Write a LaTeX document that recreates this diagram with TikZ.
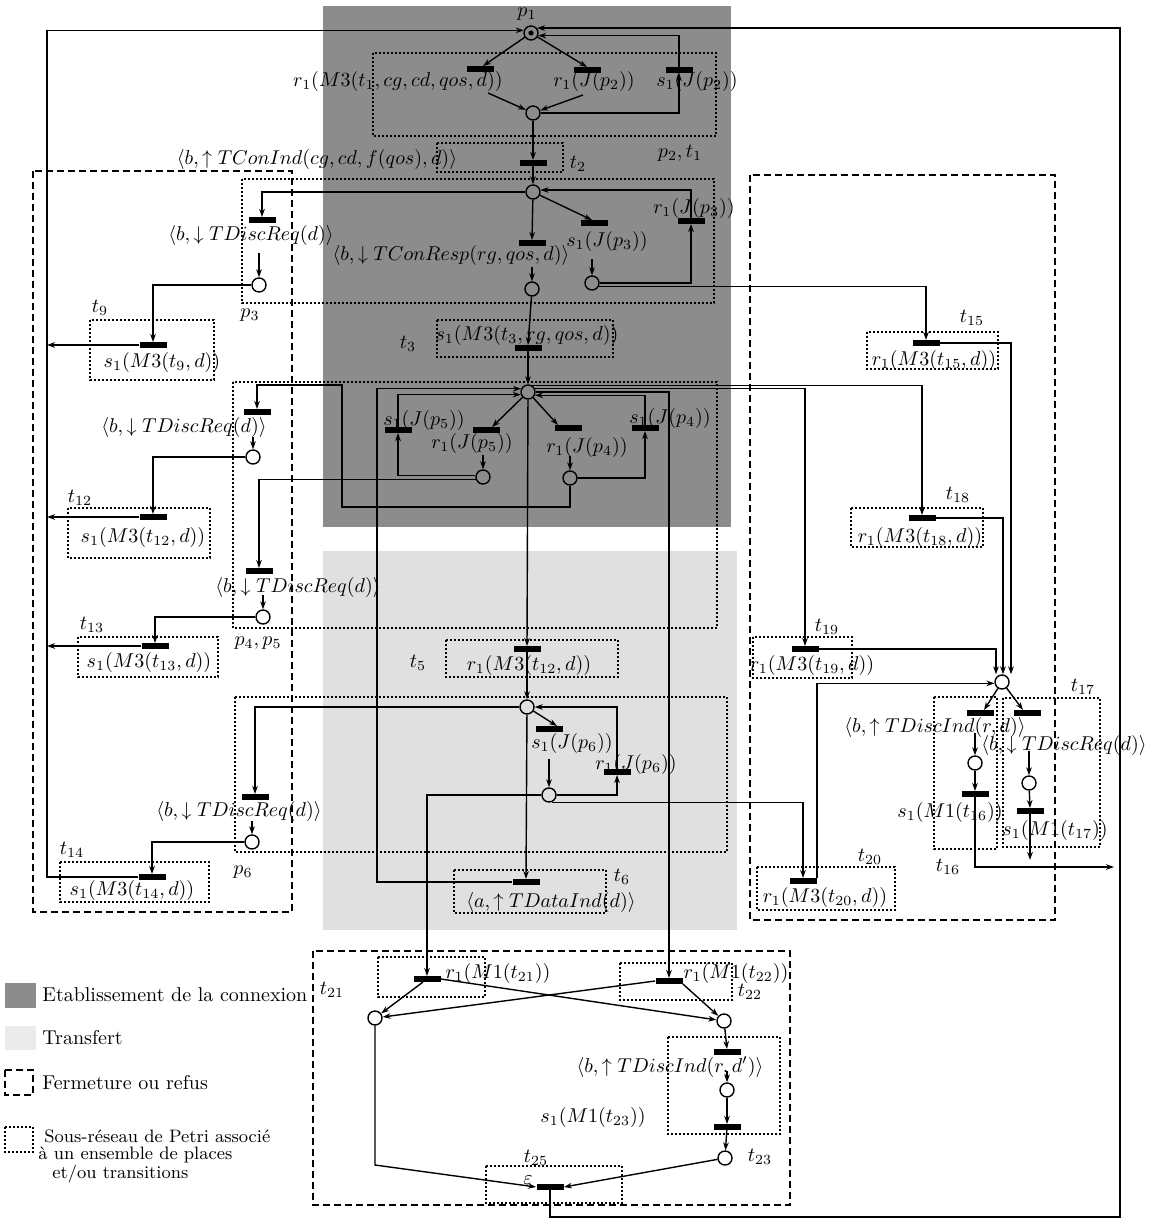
\documentclass[tikz,border=0pt]{standalone}
\usetikzlibrary{arrows.meta,calc}
\begin{document}
\begin{tikzpicture}[x=0.5pt,y=-0.5pt,
  every node/.style={font=\fontsize{10}{12}\selectfont},
  place/.style={circle,draw,line width=0.7pt,minimum size=7pt,inner sep=0pt},
  tbar/.style={rectangle,fill=black,minimum width=13.5pt,minimum height=2.6pt,inner sep=0pt},
  lbl/.style={inner sep=0pt},
  legsmall/.style={inner sep=0pt,anchor=west,font=\fontsize{9}{10}\selectfont},
  arc/.style={line width=0.7pt,-{Stealth[length=4pt,width=2.8pt]}},
  plain/.style={line width=0.7pt},
  subnet/.style={line width=0.6pt,dash pattern=on 0.8pt off 1.2pt},
  closebox/.style={line width=0.7pt,dash pattern=on 3.5pt off 2pt},
]
\useasboundingbox (0,0) rectangle (1148,1219);
% backgrounds
\fill[black!45] (323,6) rectangle (731,527);
\fill[black!12] (323,551) rectangle (737,930);

% dashed boxes (Fermeture ou refus)
\draw[closebox] (33,171) rectangle (292,912);
\draw[closebox] (750,175) rectangle (1055,920);
\draw[closebox] (313,951) rectangle (790,1205);

% dotted boxes (sous-reseaux)
\draw[subnet] (373,53) rectangle (716,136);
\draw[subnet] (437,143) rectangle (563,172);
\draw[subnet] (242,179) rectangle (714,303);
\draw[subnet] (90,320) rectangle (214,380);
\draw[subnet] (437,320) rectangle (613,357);
\draw[subnet] (233,382) rectangle (717,628);
\draw[subnet] (68,508) rectangle (210,558);
\draw[subnet] (78,637) rectangle (218,677);
\draw[subnet] (446,640) rectangle (618,677);
\draw[subnet] (235,697) rectangle (727,852);
\draw[subnet] (60,862) rectangle (209,902);
\draw[subnet] (454,870) rectangle (606,913);
\draw[subnet] (867,332) rectangle (998,369);
\draw[subnet] (851,508) rectangle (983,547);
\draw[subnet] (753,637) rectangle (852,678);
\draw[subnet] (757,867) rectangle (895,910);
\draw[subnet] (934,697) rectangle (997,849);
\draw[subnet] (1003,698) rectangle (1100,847);
\draw[subnet] (378,957) rectangle (485,997);
\draw[subnet] (620,963) rectangle (732,1000);
\draw[subnet] (668,1037) rectangle (780,1134);
\draw[subnet] (486,1166) rectangle (622,1203);

% places
\node[place] (P1) at (531,33) {};
\node[place] (P2) at (533,113) {};
\node[place] (P3) at (533,192) {};
\node[place] (P3a) at (592,283) {};
\node[place] (P3b) at (532,289) {};
\node[place] (P3c) at (259,285) {};
\node[place] (H45) at (528,392) {};
\node[place] (P5) at (483,477) {};
\node[place] (P4) at (570,478) {};
\node[place] (P45a) at (253,457) {};
\node[place] (P45b) at (263,617) {};
\node[place] (H6) at (527,707) {};
\node[place] (P6b) at (549,795) {};
\node[place] (P6c) at (252,842) {};
\node[place] (HR) at (1002,682) {};
\node[place] (PR16) at (975,763) {};
\node[place] (PR17) at (1029,783) {};
\node[place] (PB1) at (375,1018) {};
\node[place] (PB2) at (724,1021) {};
\node[place] (PB3) at (727,1090) {};
\node[place] (PB4) at (725,1158) {};
\fill (P1) circle (2.6);

% transitions and labels
\node[tbar] (T1) at (480,69) {};
\node[lbl] (T1l) at (398,82) {$r_1(M3(t_1, cg, cd, qos, d))$};
\node[tbar] (TJ2r) at (587,70) {};
\node[lbl] (TJ2rl) at (594,82) {$r_1(J(p_2))$};
\node[tbar] (TJ2s) at (679,70) {};
\node[lbl] (TJ2sl) at (697,82) {$s_1(J(p_2))$};
\node[lbl] (P1l) at (527,14) {$p_1$};
\node[lbl] (P2l) at (680,153) {$p_2, t_1$};
\node[tbar] (T2) at (533,163) {};
\node[lbl] (T2l) at (578,164) {$t_2$};
\node[lbl] (T2d) at (317,160) {$\langle b,\uparrow TConInd(cg, cd, f(qos), d)\rangle$};
\node[tbar] (TCR) at (532,243) {};
\node[lbl] (TCRl) at (451,256) {$\langle b,\downarrow TConResp(rg, qos, d)\rangle$};
\node[tbar] (TJ3s) at (594,223) {};
\node[lbl] (TJ3sl) at (607,242) {$s_1(J(p_3))$};
\node[tbar] (TJ3r) at (691,221) {};
\node[lbl] (TJ3rl) at (694,209) {$r_1(J(p_3))$};
\node[tbar] (TD3) at (262,220) {};
\node[lbl] (TD3l) at (251,236) {$\langle b,\downarrow TDiscReq(d)\rangle$};
\node[lbl] (P3l) at (250,315) {$p_3$};
\node[tbar] (T9) at (153,345) {};
\node[lbl] (T9l) at (162,362) {$s_1(M3(t_9, d))$};
\node[lbl] (T9n) at (100,308) {$t_9$};
\node[tbar] (T3) at (528,348) {};
\node[lbl] (T3l) at (527,336) {$s_1(M3(t_3, rg, qos, d))$};
\node[lbl] (T3n) at (408,344) {$t_3$};
\node[tbar] (TD45a) at (257,412) {};
\node[lbl] (TD45al) at (184,427) {$\langle b,\downarrow TDiscReq(d)\rangle$};
\node[tbar] (T12) at (153,517) {};
\node[lbl] (T12l) at (143,537) {$s_1(M3(t_{12}, d))$};
\node[lbl] (T12n) at (80,498) {$t_{12}$};
\node[tbar] (TD45b) at (259,571) {};
\node[lbl] (TD45bl) at (298,587) {$\langle b,\downarrow TDiscReq(d)\rangle$};
\node[tbar] (T13) at (155,646) {};
\node[lbl] (T13l) at (149,662) {$s_1(M3(t_{13}, d))$};
\node[lbl] (T13n) at (92,625) {$t_{13}$};
\node[lbl] (P45l) at (258,643) {$p_4, p_5$};
\node[tbar] (TJ5s) at (398,430) {};
\node[lbl] (TJ5sl) at (424,420) {$s_1(J(p_5))$};
\node[tbar] (TJ5r) at (486,430) {};
\node[lbl] (TJ5rl) at (472,443) {$r_1(J(p_5))$};
\node[tbar] (TJ4r) at (568,428) {};
\node[lbl] (TJ4rl) at (587,447) {$r_1(J(p_4))$};
\node[tbar] (TJ4s) at (645,428) {};
\node[lbl] (TJ4sl) at (670,418) {$s_1(J(p_4))$};
\node[tbar] (T5) at (527,649) {};
\node[lbl] (T5l) at (529,665) {$r_1(M3(t_{12}, d))$};
\node[lbl] (T5n) at (418,663) {$t_5$};
\node[tbar] (TJ6s) at (549,729) {};
\node[lbl] (TJ6sl) at (572,743) {$s_1(J(p_6))$};
\node[tbar] (TJ6r) at (617,772) {};
\node[lbl] (TJ6rl) at (636,764) {$r_1(J(p_6))$};
\node[tbar] (TD6) at (255,797) {};
\node[lbl] (TD6l) at (239,811) {$\langle b,\downarrow TDiscReq(d)\rangle$};
\node[lbl] (P6l) at (243,872) {$p_6$};
\node[tbar] (T14) at (152,877) {};
\node[lbl] (T14l) at (132,890) {$s_1(M3(t_{14}, d))$};
\node[lbl] (T14n) at (72,850) {$t_{14}$};
\node[tbar] (T6) at (526,882) {};
\node[lbl] (T6l) at (551,902) {$\langle a,\uparrow TDataInd(d)\rangle$};
\node[lbl] (T6n) at (622,877) {$t_6$};
\node[tbar] (T15) at (926,343) {};
\node[lbl] (T15l) at (934,360) {$r_1(M3(t_{15}, d))$};
\node[lbl] (T15n) at (972,318) {$t_{15}$};
\node[tbar] (T18) at (922,518) {};
\node[lbl] (T18l) at (920,537) {$r_1(M3(t_{18}, d))$};
\node[lbl] (T18n) at (958,495) {$t_{18}$};
\node[tbar] (T19) at (805,649) {};
\node[lbl] (T19l) at (812,665) {$r_1(M3(t_{19}, d))$};
\node[lbl] (T19n) at (827,627) {$t_{19}$};
\node[tbar] (T20) at (803,881) {};
\node[lbl] (T20l) at (825,897) {$r_1(M3(t_{20}, d))$};
\node[lbl] (T20n) at (870,857) {$t_{20}$};
\node[tbar] (TDI) at (980,713) {};
\node[lbl] (TDIl) at (935,727) {$\langle b,\uparrow TDiscInd(r, d)\rangle$};
\node[tbar] (TDR) at (1027,713) {};
\node[lbl] (TDRl) at (1064,745) {$\langle b,\downarrow TDiscReq(d)\rangle$};
\node[tbar] (T16) at (975,794) {};
\node[lbl] (T16l) at (950,812) {$s_1(M1(t_{16}))$};
\node[lbl] (T16n) at (948,867) {$t_{16}$};
\node[tbar] (T17) at (1030,811) {};
\node[lbl] (T17l) at (1055,830) {$s_1(M1(t_{17}))$};
\node[lbl] (T17n) at (1083,687) {$t_{17}$};
\node[tbar] (T21) at (427,979) {};
\node[lbl] (T21l) at (498,973) {$r_1(M1(t_{21}))$};
\node[lbl] (T21n) at (332,990) {$t_{21}$};
\node[tbar] (T22) at (669,981) {};
\node[lbl] (T22l) at (736,973) {$r_1(M1(t_{22}))$};
\node[lbl] (T22n) at (750,992) {$t_{22}$};
\node[tbar] (TDI2) at (727,1052) {};
\node[lbl] (TDI2l) at (670,1067) {$\langle b,\uparrow TDiscInd(r, d')\rangle$};
\node[tbar] (T23) at (727,1127) {};
\node[lbl] (T23l) at (593,1117) {$s_1(M1(t_{23}))$};
\node[lbl] (T23n) at (760,1157) {$t_{23}$};
\node[tbar] (T25) at (550,1187) {};
\node[lbl] (T25l) at (528,1180) {$\varepsilon$};
\node[lbl] (T25n) at (536,1158) {$t_{25}$};

% helper coordinates
\coordinate (LT) at (47,30);
\coordinate (RB) at (1120,1217);
\coordinate (Q1) at (342,507);
\coordinate (Q2) at (342,385);
\coordinate (X6) at (377,389);
\coordinate (B1) at (375,1165);
\coordinate (E16) at (1114,867);

% connectors: p2,t1
\draw[arc] (P1) -- ($(T1.north)+(3,0)$);
\draw[arc] (P1) -- (TJ2r.north);
\draw[arc] ($(T1)+(8,24)$) -- (P2);
\draw[arc] ($(TJ2r)+(-4,25)$) -- (P2);
\draw[arc] (P2.east) -| (TJ2s.south);
\draw[arc] (TJ2s.north) |- (P1.-20);
% returns to p1
\draw[arc] (T25.south) |- (RB) |- (P1.40);
\draw[arc] (T14.west) -| (LT) |- (P1.160);
\draw[arc] (T9.west) -- (T9.west -| LT);
\draw[arc] (T12.west) -- (T12.west -| LT);
\draw[arc] (T13.west) -- (T13.west -| LT);
% t2, p3
\draw[arc] (P2) -- (T2.north);
\draw[arc] (T2) -- (P3);
\draw[arc] (P3.west) -| (TD3.north);
\draw[arc] ($(P3c.north)+(0,-24)$) -- (P3c.north);
\draw[arc] (P3c.west) -| (T9.north);
\draw[arc] (P3) -- (TCR.north);
\draw[arc] (P3) -- ($(TJ3s.north)+(-2,0)$);
\draw[arc] ($(P3b.north)+(0,-14)$) -- (P3b.north);
\draw[arc] ($(P3a.north)+(0,-16)$) -- (P3a.north);
\draw[arc] (P3a.east) -| (TJ3r.south);
\draw[arc] (TJ3r.north) |- (P3.15);
\draw[arc] (P3a.-25) -| (T15.north);
\draw[arc] (P3b) -- (T3.north);
\draw[arc] (T3) -- (H45);
% p4,p5
\draw[arc] (H45) -- ($(TJ5r.north)+(6,0)$);
\draw[arc] (H45) -- ($(TJ4r.north)+(-10,0)$);
\draw[arc] ($(P5.north)+(0,-14)$) -- (P5.north);
\draw[arc] ($(P4.north)+(0,-14)$) -- (P4.north);
\draw[arc] (P5.170) -| (TJ5s.south);
\draw[arc] (TJ5s.north) |- (H45.200);
\draw[arc] (P4.east) -| (TJ4s.south);
\draw[arc] (TJ4s.north) |- (H45.-25);
\draw[arc] (P4.south) |- (Q1) -- (Q2) -| (TD45a.north);
\draw[arc] ($(P45a.north)+(0,-12)$) -- (P45a.north);
\draw[arc] (P45a.west) -| (T12.north);
\draw[arc] (P5.200) -| (TD45b.north);
\draw[arc] ($(P45b.north)+(0,-14)$) -- (P45b.north);
\draw[arc] (P45b.west) -| (T13.north);
\draw[arc] (H45.60) -| (T18.north);
\draw[arc] (H45.25) -| (T19.north);
\draw[arc] (H45.0) -| (T22.north);
\draw[arc] (H45) -- (T5.north);
\draw[arc] (T6.west) -| (X6) |- (H45.155);
% p6
\draw[arc] (T5) -- (H6);
\draw[arc] (H6) -- ($(TJ6s.north)+(8,0)$);
\draw[arc] ($(P6b.north)+(0,-28)$) -- (P6b.north);
\draw[arc] (P6b.east) -| (TJ6r.south);
\draw[arc] (TJ6r.north) |- (H6.east);
\draw[arc] (H6.west) -| (TD6.north);
\draw[arc] (H6) -- (T6.north);
\draw[arc] ($(P6c.north)+(0,-13)$) -- (P6c.north);
\draw[arc] (P6c.west) -| (T14.north);
\draw[arc] (P6b.west) -| (T21.north);
\draw[arc] (P6b.-70) -| (T20.north);
% right closing part
\draw[arc] (T19.east) -| ($(HR.north)+(-6,0)$);
\draw[arc] (T18.east) -| ($(HR.north)+(1,0)$);
\draw[arc] (T15.east) -| ($(HR.north)+(9,0)$);
\draw[arc] (T20.north east) |- (HR.190);
\draw[arc] (HR) -- ($(TDI.north)+(4,0)$);
\draw[arc] (HR) -- ($(TDR.north)+(-4,0)$);
\draw[arc] ($(PR16.north)+(0,-22)$) -- (PR16.north);
\draw[arc] ($(PR17.north)+(0,-24)$) -- (PR17.north);
\draw[arc] (PR16) -- (T16.north);
\draw[arc] (PR17) -- (T17.north);
\draw[arc] (T16.south) |- (E16);
\draw[arc] (T17.south) -- ($(T17.south)+(0,46)$);
% bottom closing part
\draw[arc] ($(T21.south)+(-4,0)$) -- (PB1);
\draw[arc] (T21.east) -- (PB2);
\draw[arc] (T22.west) -- (PB1);
\draw[arc] (T22.south east) -- (PB2);
\draw[arc] (PB2) -- (TDI2.north);
\draw[arc] ($(PB3.north)+(0,-11)$) -- (PB3.north);
\draw[arc] (PB3) -- (T23.north);
\draw[arc] (T23) -- (PB4);
\draw[arc] (PB1) -- (B1) -- (T25.west);
\draw[arc] (PB4) -- (T25.east);

% legend
\fill[black!45] (5,983) rectangle (36,1008);
\node[lbl,anchor=west] (L1) at (42,995) {Etablissement de la connexion};
\fill[black!8] (5,1026) rectangle (36,1050);
\node[lbl,anchor=west] (L2) at (42,1038) {Transfert};
\draw[closebox] (5,1070) rectangle (33,1095);
\node[lbl,anchor=west] (L3) at (42,1083) {Fermeture ou refus};
\draw[subnet] (5,1127) rectangle (33,1152);
\node[legsmall] (L4) at (44,1136) {Sous-réseau de Petri associé};
\node[legsmall] (L5) at (38,1155) {à un ensemble de places};
\node[legsmall] (L6) at (52,1174) {et/ou transitions};
\end{tikzpicture}
\end{document}
